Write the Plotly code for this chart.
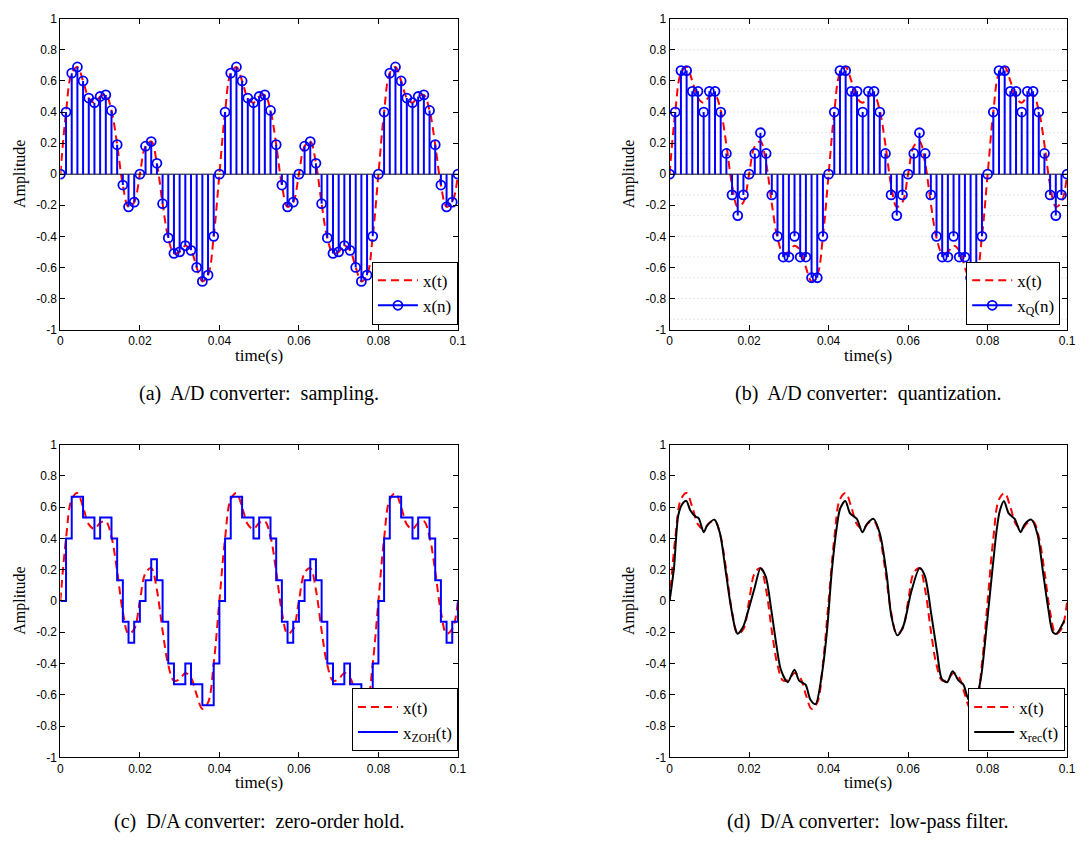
import plotly.graph_objects as go

W, H = 1090, 843

# ---------------- data ----------------
fs = 700  # sampling rate (Hz), 28 samples per 0.04 s period

x_n = [0, 0.40, 0.65, 0.69, 0.60, 0.49, 0.46, 0.50, 0.51, 0.41, 0.19, -0.07, -0.21, -0.18,
       0.00, 0.18, 0.21, 0.07, -0.19, -0.41, -0.51, -0.50, -0.46, -0.49, -0.60, -0.69, -0.65, -0.40,
       0, 0.40, 0.65, 0.69, 0.60, 0.49, 0.46, 0.50, 0.51, 0.41, 0.19, -0.07, -0.21, -0.18,
       0.00, 0.18, 0.21, 0.07, -0.19, -0.41, -0.51, -0.50, -0.46, -0.49, -0.60, -0.69, -0.65, -0.40,
       0, 0.40, 0.65, 0.69, 0.60, 0.49, 0.46, 0.50, 0.51, 0.41, 0.19, -0.07, -0.21, -0.18, 0.00]

x_q = [0, 0.4, 0.6667, 0.6667, 0.5333, 0.5333, 0.4, 0.5333, 0.5333, 0.4, 0.1333, -0.1333, -0.2667, -0.1333,
       0, 0.1333, 0.2667, 0.1333, -0.1333, -0.4, -0.5333, -0.5333, -0.4, -0.5333, -0.5333, -0.6667, -0.6667, -0.4,
       0, 0.4, 0.6667, 0.6667, 0.5333, 0.5333, 0.4, 0.5333, 0.5333, 0.4, 0.1333, -0.1333, -0.2667, -0.1333,
       0, 0.1333, 0.2667, 0.1333, -0.1333, -0.4, -0.5333, -0.5333, -0.4, -0.5333, -0.5333, -0.6667, -0.6667, -0.4,
       0, 0.4, 0.6667, 0.6667, 0.5333, 0.5333, 0.4, 0.5333, 0.5333, 0.4, 0.1333, -0.1333, -0.2667, -0.1333, 0]

t_n = [k / fs for k in range(len(x_n))]

t_rec = [0, 0.0011, 0.0022, 0.0032, 0.0042, 0.0052, 0.0065, 0.0073, 0.0086, 0.0094,
         0.0113, 0.0127, 0.0139, 0.0152, 0.0164, 0.0171, 0.0185, 0.0198, 0.0214, 0.0229,
         0.0242, 0.0256, 0.0268, 0.0280, 0.0297, 0.0314, 0.0326, 0.0342, 0.0354, 0.0367,
         0.0383, 0.0396, 0.0408, 0.0421, 0.0429, 0.0442, 0.0454, 0.0471, 0.0485, 0.0496,
         0.0513, 0.0529, 0.0546, 0.0558, 0.0573, 0.0588, 0.0608, 0.0629, 0.0642, 0.0658,
         0.0673, 0.0685, 0.0698, 0.0712, 0.0727, 0.0739, 0.0752, 0.0764, 0.0777, 0.0785,
         0.0798, 0.0810, 0.0823, 0.0831, 0.0841, 0.0853, 0.0868, 0.0883, 0.0893, 0.0910,
         0.0925, 0.0939, 0.0952, 0.0964, 0.0973, 0.0985, 0.0993]
x_rec = [0, 0.21, 0.55, 0.62, 0.64, 0.58, 0.54, 0.53, 0.44, 0.48,
         0.52, 0.43, 0.23, 0.0, -0.165, -0.21, -0.165, -0.06, 0.085, 0.21,
         0.155, -0.06, -0.27, -0.44, -0.52, -0.44, -0.51, -0.535, -0.63, -0.66,
         -0.47, -0.19, 0.19, 0.48, 0.59, 0.64, 0.56, 0.525, 0.44, 0.49,
         0.525, 0.43, 0.17, -0.10, -0.22, -0.16, 0.06, 0.21, 0.16, -0.08,
         -0.33, -0.50, -0.52, -0.45, -0.51, -0.535, -0.63, -0.65, -0.57, -0.46,
         -0.15, 0.15, 0.46, 0.58, 0.64, 0.56, 0.525, 0.44, 0.49, 0.52,
         0.43, 0.19, -0.04, -0.20, -0.21, -0.165, -0.125]

q_levels = [-0.9333, -0.8, -0.6667, -0.5333, -0.4, -0.2667, -0.1333,
            0.1333, 0.2667, 0.4, 0.5333, 0.6667, 0.8, 0.9333]

xtick_vals = [0, 0.02, 0.04, 0.06, 0.08, 0.1]
xtick_text = ["0", "0.02", "0.04", "0.06", "0.08", "0.1"]
ytick_vals = [-1, -0.8, -0.6, -0.4, -0.2, 0, 0.2, 0.4, 0.6, 0.8, 1]
ytick_text = ["-1", "-0.8", "-0.6", "-0.4", "-0.2", "0", "0.2", "0.4", "0.6", "0.8", "1"]

captions = ["(a)  A/D converter:  sampling.", "(b)  A/D converter:  quantization.",
            "(c)  D/A converter:  zero-order hold.", "(d)  D/A converter:  low-pass filter."]
legend_names = [["x(t)", "x(n)"], ["x(t)", "x<sub>Q</sub>(n)"],
                ["x(t)", "x<sub>ZOH</sub>(t)"], ["x(t)", "x<sub>rec</sub>(t)"]]

# ---------------- styling ----------------
RED = "rgb(255,0,0)"
BLUE = "rgb(0,0,255)"
SERIF = "Liberation Serif"
SANS = "Liberation Sans"

# panel pixel boxes (left, right, top, bottom)
boxes = [(58, 460, 12, 328), (674, 1076, 12, 328), (58, 460, 445, 763), (674, 1076, 445, 763)]
legend_pos = [(460, 323), (1069, 323), (460, 757), (1074, 757)]


def px(x):
    return x / W


def py(y):
    return 1 - y / H


fig = go.Figure()
layout = dict(width=W, height=H, margin=dict(l=0, r=0, t=0, b=0),
              paper_bgcolor="white", plot_bgcolor="white", showlegend=True)

annotations = []
shapes = []

for i, (l, r, t, b) in enumerate(boxes):
    k = "" if i == 0 else str(i + 1)
    xa, ya = "x" + k, "y" + k
    lg = "legend" + k
    layout["xaxis" + k] = dict(domain=[px(l), px(r)], anchor=ya, range=[0, 0.1],
                               tickvals=xtick_vals, ticktext=xtick_text,
                               ticks="inside", ticklen=5, tickcolor="black", tickwidth=1,
                               showline=True, linecolor="black", linewidth=1, mirror="allticks",
                               showgrid=False, zeroline=False,
                               tickfont=dict(family=SANS, size=12, color="black"))
    layout["yaxis" + k] = dict(domain=[py(b), py(t)], anchor=xa, range=[-1, 1],
                               tickvals=ytick_vals, ticktext=ytick_text,
                               ticks="inside", ticklen=5, tickcolor="black", tickwidth=1,
                               showline=True, linecolor="black", linewidth=1, mirror="allticks",
                               showgrid=False, zeroline=False,
                               tickfont=dict(family=SANS, size=12, color="black"))
    lx, ly = legend_pos[i]
    layout[lg] = dict(x=px(lx), y=py(ly), xanchor="right", yanchor="bottom",
                      bgcolor="white", bordercolor="black", borderwidth=1,
                      font=dict(family=SERIF, size=17, color="black"),
                      tracegroupgap=0, itemwidth=40)

    if i == 1:
        for q in q_levels:
            shapes.append(dict(type="line", xref=xa, yref=ya, x0=0, x1=0.1, y0=q, y1=q,
                               line=dict(color="rgb(200,200,225)", width=1, dash="1px,3px"), layer="below"))

    # continuous signal x(t)
    fig.add_trace(go.Scatter(x=t_n, y=x_n, mode="lines", name=legend_names[i][0],
                             line=dict(color=RED, width=2, dash="8px,5px", shape="spline", smoothing=1),
                             xaxis=xa, yaxis=ya, legend=lg, hoverinfo="skip"))

    if i in (0, 1):
        vals = x_n if i == 0 else x_q
        sx, sy = [], []
        for tt, v in zip(t_n, vals):
            sx += [tt, tt, None]
            sy += [0, v, None]
        fig.add_trace(go.Scatter(x=[t_n[0], t_n[-1]], y=[0, 0], mode="lines", showlegend=False,
                                 line=dict(color="black", width=1), xaxis=xa, yaxis=ya, hoverinfo="skip"))
        fig.add_trace(go.Scatter(x=sx, y=sy, mode="lines", showlegend=False,
                                 line=dict(color=BLUE, width=2), xaxis=xa, yaxis=ya, hoverinfo="skip"))
        fig.add_trace(go.Scatter(x=t_n, y=vals, mode="markers", showlegend=False,
                                 marker=dict(symbol="circle-open", size=9, color=BLUE, line=dict(width=1.8, color=BLUE)),
                                 xaxis=xa, yaxis=ya, hoverinfo="skip"))
        # legend proxy
        fig.add_trace(go.Scatter(x=[None], y=[None], mode="lines+markers", name=legend_names[i][1],
                                 line=dict(color=BLUE, width=2),
                                 marker=dict(symbol="circle-open", size=9, color=BLUE, line=dict(width=1.8, color=BLUE)),
                                 xaxis=xa, yaxis=ya, legend=lg))
    elif i == 2:
        fig.add_trace(go.Scatter(x=t_n, y=x_q, mode="lines", name=legend_names[i][1],
                                 line=dict(color=BLUE, width=2, shape="hv"),
                                 xaxis=xa, yaxis=ya, legend=lg, hoverinfo="skip"))
    else:
        fig.add_trace(go.Scatter(x=t_rec, y=x_rec, mode="lines", name=legend_names[i][1],
                                 line=dict(color="black", width=2, shape="spline", smoothing=0.8),
                                 xaxis=xa, yaxis=ya, legend=lg, hoverinfo="skip"))

    cx = (l + r) / 2
    cy = (t + b) / 2
    annotations.append(dict(text="Amplitude", x=px(l - 41), y=py(cy), xref="paper", yref="paper",
                            textangle=-90, showarrow=False, xanchor="center", yanchor="middle",
                            font=dict(family=SERIF, size=16, color="black")))
    annotations.append(dict(text="time(s)", x=px(cx), y=py(b + 26), xref="paper", yref="paper",
                            showarrow=False, xanchor="center", yanchor="middle",
                            font=dict(family=SERIF, size=17, color="black")))
    annotations.append(dict(text=captions[i], x=px(cx), y=py(b + 65), xref="paper", yref="paper",
                            showarrow=False, xanchor="center", yanchor="middle",
                            font=dict(family=SERIF, size=20, color="black")))

layout["annotations"] = annotations
layout["shapes"] = shapes
fig.update_layout(**layout)

fig.write_html("out.html")
